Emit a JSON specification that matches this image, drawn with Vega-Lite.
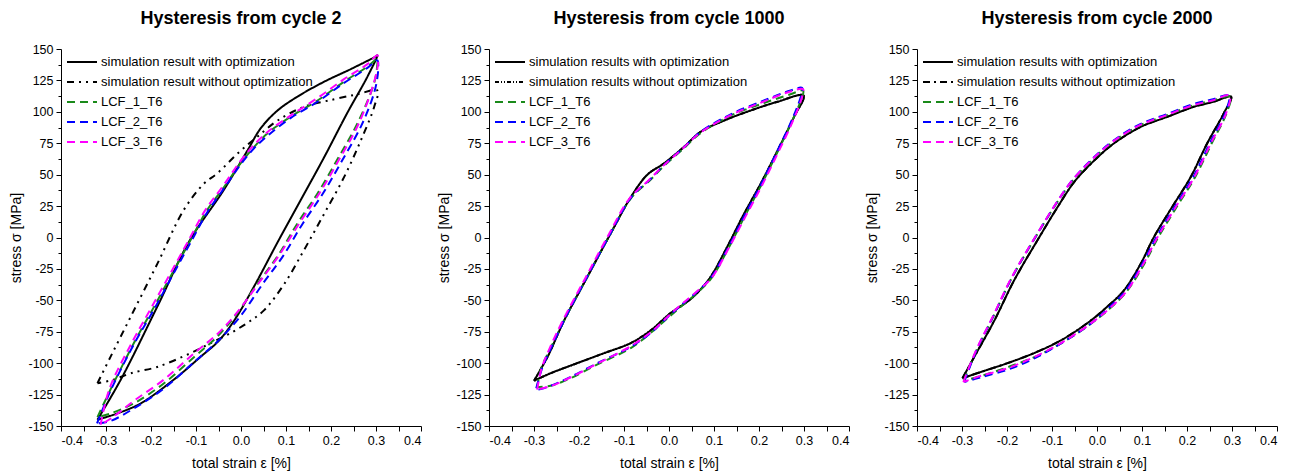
{
  "$schema": "https://vega.github.io/schema/vega-lite/v6.json",
  "padding": {"left": 9, "top": 10, "right": 0, "bottom": 0},
  "bounds": "flush",
  "spacing": 68,
  "config": {
    "font": "Liberation Sans",
    "view": {"stroke": null},
    "title": {"fontSize": 18, "fontWeight": "bold", "color": "#000", "anchor": "middle", "offset": 15},
    "axis": {"grid": false, "domainColor": "#000", "tickColor": "#000", "labelColor": "#000", "titleColor": "#000", "labelFontSize": 12.5, "titleFontSize": 14, "titleFontWeight": "normal", "labelPadding": 3, "domainWidth": 1, "tickWidth": 1},
    "legend": {"orient": "none", "legendX": 10, "legendY": 2, "title": null, "symbolType": "M-1.5,0H1.5", "symbolSize": 400, "symbolStrokeWidth": 2, "labelFontSize": 13, "labelColor": "#000", "padding": 0, "rowPadding": 2, "labelOffset": 8, "symbolOffset": 0, "labelLimit": 400}
  },
  "datasets": {
    "p1": [
      {"s":"opt","i":0,"x":-0.319,"y":-145},{"s":"opt","i":1,"x":-0.267,"y":-113},{"s":"opt","i":2,"x":-0.186,"y":-55},{"s":"opt","i":3,"x":-0.115,"y":-3},{"s":"opt","i":4,"x":-0.038,"y":38},{"s":"opt","i":5,"x":0.014,"y":69},{"s":"opt","i":6,"x":0.044,"y":87},{"s":"opt","i":7,"x":0.081,"y":101},{"s":"opt","i":8,"x":0.125,"y":112},{"s":"opt","i":9,"x":0.185,"y":124},{"s":"opt","i":10,"x":0.244,"y":134},{"s":"opt","i":11,"x":0.299,"y":144},{"s":"opt","i":12,"x":0.303,"y":145},{"s":"opt","i":13,"x":0.281,"y":128},{"s":"opt","i":14,"x":0.236,"y":99},{"s":"opt","i":15,"x":0.185,"y":64},{"s":"opt","i":16,"x":0.133,"y":30},{"s":"opt","i":17,"x":0.081,"y":-4},{"s":"opt","i":18,"x":0.029,"y":-39},{"s":"opt","i":19,"x":-0.015,"y":-66},{"s":"opt","i":20,"x":-0.049,"y":-82},{"s":"opt","i":21,"x":-0.09,"y":-95},{"s":"opt","i":22,"x":-0.149,"y":-113},{"s":"opt","i":23,"x":-0.223,"y":-132},{"s":"opt","i":24,"x":-0.275,"y":-140},{"s":"opt","i":25,"x":-0.319,"y":-145},
      {"s":"noopt","i":0,"x":-0.319,"y":-116},{"s":"noopt","i":1,"x":-0.29,"y":-95},{"s":"noopt","i":2,"x":-0.245,"y":-63},{"s":"noopt","i":3,"x":-0.186,"y":-21},{"s":"noopt","i":4,"x":-0.127,"y":22},{"s":"noopt","i":5,"x":-0.082,"y":43},{"s":"noopt","i":6,"x":-0.053,"y":51},{"s":"noopt","i":7,"x":-0.001,"y":69},{"s":"noopt","i":8,"x":0.036,"y":80},{"s":"noopt","i":9,"x":0.081,"y":93},{"s":"noopt","i":10,"x":0.14,"y":104},{"s":"noopt","i":11,"x":0.207,"y":110},{"s":"noopt","i":12,"x":0.259,"y":114},{"s":"noopt","i":13,"x":0.303,"y":117},{"s":"noopt","i":14,"x":0.296,"y":104},{"s":"noopt","i":15,"x":0.266,"y":77},{"s":"noopt","i":16,"x":0.229,"y":48},{"s":"noopt","i":17,"x":0.185,"y":19},{"s":"noopt","i":18,"x":0.14,"y":-10},{"s":"noopt","i":19,"x":0.096,"y":-37},{"s":"noopt","i":20,"x":0.051,"y":-58},{"s":"noopt","i":21,"x":0.014,"y":-68},{"s":"noopt","i":22,"x":-0.023,"y":-76},{"s":"noopt","i":23,"x":-0.067,"y":-84},{"s":"noopt","i":24,"x":-0.112,"y":-92},{"s":"noopt","i":25,"x":-0.186,"y":-103},{"s":"noopt","i":26,"x":-0.245,"y":-108},{"s":"noopt","i":27,"x":-0.282,"y":-113},{"s":"noopt","i":28,"x":-0.319,"y":-116},
      {"s":"LCF_1_T6","i":0,"x":-0.319,"y":-143},{"s":"LCF_1_T6","i":1,"x":-0.29,"y":-121},{"s":"LCF_1_T6","i":2,"x":-0.238,"y":-84},{"s":"LCF_1_T6","i":3,"x":-0.193,"y":-55},{"s":"LCF_1_T6","i":4,"x":-0.149,"y":-26},{"s":"LCF_1_T6","i":5,"x":-0.112,"y":-2},{"s":"LCF_1_T6","i":6,"x":-0.075,"y":22},{"s":"LCF_1_T6","i":7,"x":-0.038,"y":40},{"s":"LCF_1_T6","i":8,"x":-0.001,"y":59},{"s":"LCF_1_T6","i":9,"x":0.029,"y":72},{"s":"LCF_1_T6","i":10,"x":0.059,"y":83},{"s":"LCF_1_T6","i":11,"x":0.11,"y":96},{"s":"LCF_1_T6","i":12,"x":0.17,"y":109},{"s":"LCF_1_T6","i":13,"x":0.229,"y":124},{"s":"LCF_1_T6","i":14,"x":0.281,"y":136},{"s":"LCF_1_T6","i":15,"x":0.303,"y":142},{"s":"LCF_1_T6","i":16,"x":0.303,"y":138},{"s":"LCF_1_T6","i":17,"x":0.296,"y":123},{"s":"LCF_1_T6","i":18,"x":0.259,"y":91},{"s":"LCF_1_T6","i":19,"x":0.214,"y":62},{"s":"LCF_1_T6","i":20,"x":0.17,"y":35},{"s":"LCF_1_T6","i":21,"x":0.125,"y":11},{"s":"LCF_1_T6","i":22,"x":0.081,"y":-15},{"s":"LCF_1_T6","i":23,"x":0.036,"y":-37},{"s":"LCF_1_T6","i":24,"x":-0.008,"y":-60},{"s":"LCF_1_T6","i":25,"x":-0.053,"y":-79},{"s":"LCF_1_T6","i":26,"x":-0.104,"y":-95},{"s":"LCF_1_T6","i":27,"x":-0.171,"y":-116},{"s":"LCF_1_T6","i":28,"x":-0.238,"y":-132},{"s":"LCF_1_T6","i":29,"x":-0.29,"y":-140},{"s":"LCF_1_T6","i":30,"x":-0.319,"y":-143},
      {"s":"LCF_2_T6","i":0,"x":-0.32,"y":-148},{"s":"LCF_2_T6","i":1,"x":-0.29,"y":-122},{"s":"LCF_2_T6","i":2,"x":-0.238,"y":-85},{"s":"LCF_2_T6","i":3,"x":-0.193,"y":-57},{"s":"LCF_2_T6","i":4,"x":-0.149,"y":-28},{"s":"LCF_2_T6","i":5,"x":-0.112,"y":-4},{"s":"LCF_2_T6","i":6,"x":-0.075,"y":20},{"s":"LCF_2_T6","i":7,"x":-0.038,"y":39},{"s":"LCF_2_T6","i":8,"x":-0.001,"y":58},{"s":"LCF_2_T6","i":9,"x":0.029,"y":71},{"s":"LCF_2_T6","i":10,"x":0.059,"y":81},{"s":"LCF_2_T6","i":11,"x":0.11,"y":95},{"s":"LCF_2_T6","i":12,"x":0.17,"y":108},{"s":"LCF_2_T6","i":13,"x":0.229,"y":123},{"s":"LCF_2_T6","i":14,"x":0.281,"y":135},{"s":"LCF_2_T6","i":15,"x":0.303,"y":141},{"s":"LCF_2_T6","i":16,"x":0.305,"y":135},{"s":"LCF_2_T6","i":17,"x":0.298,"y":118},{"s":"LCF_2_T6","i":18,"x":0.27,"y":91},{"s":"LCF_2_T6","i":19,"x":0.226,"y":62},{"s":"LCF_2_T6","i":20,"x":0.182,"y":35},{"s":"LCF_2_T6","i":21,"x":0.137,"y":11},{"s":"LCF_2_T6","i":22,"x":0.093,"y":-15},{"s":"LCF_2_T6","i":23,"x":0.048,"y":-37},{"s":"LCF_2_T6","i":24,"x":0.0,"y":-62},{"s":"LCF_2_T6","i":25,"x":-0.05,"y":-82},{"s":"LCF_2_T6","i":26,"x":-0.104,"y":-99},{"s":"LCF_2_T6","i":27,"x":-0.171,"y":-120},{"s":"LCF_2_T6","i":28,"x":-0.238,"y":-136},{"s":"LCF_2_T6","i":29,"x":-0.29,"y":-146},{"s":"LCF_2_T6","i":30,"x":-0.32,"y":-148},
      {"s":"LCF_3_T6","i":0,"x":-0.312,"y":-149},{"s":"LCF_3_T6","i":1,"x":-0.292,"y":-120},{"s":"LCF_3_T6","i":2,"x":-0.243,"y":-84},{"s":"LCF_3_T6","i":3,"x":-0.198,"y":-55},{"s":"LCF_3_T6","i":4,"x":-0.153,"y":-26},{"s":"LCF_3_T6","i":5,"x":-0.116,"y":-2},{"s":"LCF_3_T6","i":6,"x":-0.079,"y":22},{"s":"LCF_3_T6","i":7,"x":-0.04,"y":41},{"s":"LCF_3_T6","i":8,"x":-0.003,"y":60},{"s":"LCF_3_T6","i":9,"x":0.027,"y":73},{"s":"LCF_3_T6","i":10,"x":0.059,"y":84},{"s":"LCF_3_T6","i":11,"x":0.11,"y":97},{"s":"LCF_3_T6","i":12,"x":0.17,"y":111},{"s":"LCF_3_T6","i":13,"x":0.229,"y":126},{"s":"LCF_3_T6","i":14,"x":0.281,"y":138},{"s":"LCF_3_T6","i":15,"x":0.303,"y":145},{"s":"LCF_3_T6","i":16,"x":0.305,"y":140},{"s":"LCF_3_T6","i":17,"x":0.296,"y":124},{"s":"LCF_3_T6","i":18,"x":0.262,"y":91},{"s":"LCF_3_T6","i":19,"x":0.218,"y":62},{"s":"LCF_3_T6","i":20,"x":0.174,"y":35},{"s":"LCF_3_T6","i":21,"x":0.129,"y":11},{"s":"LCF_3_T6","i":22,"x":0.085,"y":-14},{"s":"LCF_3_T6","i":23,"x":0.04,"y":-36},{"s":"LCF_3_T6","i":24,"x":-0.005,"y":-58},{"s":"LCF_3_T6","i":25,"x":-0.05,"y":-76},{"s":"LCF_3_T6","i":26,"x":-0.104,"y":-92},{"s":"LCF_3_T6","i":27,"x":-0.171,"y":-113},{"s":"LCF_3_T6","i":28,"x":-0.238,"y":-130},{"s":"LCF_3_T6","i":29,"x":-0.285,"y":-143},{"s":"LCF_3_T6","i":30,"x":-0.312,"y":-149}
    ],
    "p2": [
      {"s":"opt","i":0,"x":-0.30,"y":-114},{"s":"opt","i":1,"x":-0.27,"y":-95},{"s":"opt","i":2,"x":-0.233,"y":-66},{"s":"opt","i":3,"x":-0.181,"y":-31},{"s":"opt","i":4,"x":-0.13,"y":3},{"s":"opt","i":5,"x":-0.085,"y":32},{"s":"opt","i":6,"x":-0.048,"y":50},{"s":"opt","i":7,"x":-0.011,"y":59},{"s":"opt","i":8,"x":0.033,"y":72},{"s":"opt","i":9,"x":0.07,"y":84},{"s":"opt","i":10,"x":0.122,"y":93},{"s":"opt","i":11,"x":0.181,"y":101},{"s":"opt","i":12,"x":0.241,"y":108},{"s":"opt","i":13,"x":0.299,"y":113},{"s":"opt","i":14,"x":0.278,"y":96},{"s":"opt","i":15,"x":0.241,"y":69},{"s":"opt","i":16,"x":0.204,"y":43},{"s":"opt","i":17,"x":0.167,"y":19},{"s":"opt","i":18,"x":0.13,"y":-7},{"s":"opt","i":19,"x":0.093,"y":-31},{"s":"opt","i":20,"x":0.063,"y":-44},{"s":"opt","i":21,"x":0.041,"y":-51},{"s":"opt","i":22,"x":0.004,"y":-60},{"s":"opt","i":23,"x":-0.041,"y":-74},{"s":"opt","i":24,"x":-0.085,"y":-84},{"s":"opt","i":25,"x":-0.144,"y":-92},{"s":"opt","i":26,"x":-0.204,"y":-100},{"s":"opt","i":27,"x":-0.263,"y":-108},{"s":"opt","i":28,"x":-0.30,"y":-114},
      {"s":"noopt","i":0,"x":-0.30,"y":-114},{"s":"noopt","i":1,"x":-0.27,"y":-95},{"s":"noopt","i":2,"x":-0.233,"y":-66},{"s":"noopt","i":3,"x":-0.181,"y":-31},{"s":"noopt","i":4,"x":-0.13,"y":3},{"s":"noopt","i":5,"x":-0.085,"y":32},{"s":"noopt","i":6,"x":-0.048,"y":50},{"s":"noopt","i":7,"x":-0.011,"y":59},{"s":"noopt","i":8,"x":0.033,"y":72},{"s":"noopt","i":9,"x":0.07,"y":84},{"s":"noopt","i":10,"x":0.122,"y":93},{"s":"noopt","i":11,"x":0.181,"y":101},{"s":"noopt","i":12,"x":0.241,"y":108},{"s":"noopt","i":13,"x":0.299,"y":113},{"s":"noopt","i":14,"x":0.278,"y":96},{"s":"noopt","i":15,"x":0.241,"y":69},{"s":"noopt","i":16,"x":0.204,"y":43},{"s":"noopt","i":17,"x":0.167,"y":19},{"s":"noopt","i":18,"x":0.13,"y":-7},{"s":"noopt","i":19,"x":0.093,"y":-31},{"s":"noopt","i":20,"x":0.063,"y":-44},{"s":"noopt","i":21,"x":0.041,"y":-51},{"s":"noopt","i":22,"x":0.004,"y":-60},{"s":"noopt","i":23,"x":-0.041,"y":-74},{"s":"noopt","i":24,"x":-0.085,"y":-84},{"s":"noopt","i":25,"x":-0.144,"y":-92},{"s":"noopt","i":26,"x":-0.204,"y":-100},{"s":"noopt","i":27,"x":-0.263,"y":-108},{"s":"noopt","i":28,"x":-0.30,"y":-114},
      {"s":"LCF_1_T6","i":0,"x":-0.293,"y":-119},{"s":"LCF_1_T6","i":1,"x":-0.283,"y":-103},{"s":"LCF_1_T6","i":2,"x":-0.263,"y":-88},{"s":"LCF_1_T6","i":3,"x":-0.233,"y":-66},{"s":"LCF_1_T6","i":4,"x":-0.181,"y":-31},{"s":"LCF_1_T6","i":5,"x":-0.13,"y":3},{"s":"LCF_1_T6","i":6,"x":-0.085,"y":31},{"s":"LCF_1_T6","i":7,"x":-0.041,"y":46},{"s":"LCF_1_T6","i":8,"x":-0.011,"y":57},{"s":"LCF_1_T6","i":9,"x":0.033,"y":71},{"s":"LCF_1_T6","i":10,"x":0.07,"y":83},{"s":"LCF_1_T6","i":11,"x":0.137,"y":97},{"s":"LCF_1_T6","i":12,"x":0.211,"y":107},{"s":"LCF_1_T6","i":13,"x":0.27,"y":114},{"s":"LCF_1_T6","i":14,"x":0.298,"y":117},{"s":"LCF_1_T6","i":15,"x":0.294,"y":110},{"s":"LCF_1_T6","i":16,"x":0.27,"y":90},{"s":"LCF_1_T6","i":17,"x":0.241,"y":68},{"s":"LCF_1_T6","i":18,"x":0.204,"y":41},{"s":"LCF_1_T6","i":19,"x":0.167,"y":16},{"s":"LCF_1_T6","i":20,"x":0.13,"y":-10},{"s":"LCF_1_T6","i":21,"x":0.093,"y":-33},{"s":"LCF_1_T6","i":22,"x":0.063,"y":-44},{"s":"LCF_1_T6","i":23,"x":0.03,"y":-54},{"s":"LCF_1_T6","i":24,"x":0.004,"y":-62},{"s":"LCF_1_T6","i":25,"x":-0.041,"y":-76},{"s":"LCF_1_T6","i":26,"x":-0.085,"y":-88},{"s":"LCF_1_T6","i":27,"x":-0.159,"y":-101},{"s":"LCF_1_T6","i":28,"x":-0.219,"y":-112},{"s":"LCF_1_T6","i":29,"x":-0.263,"y":-118},{"s":"LCF_1_T6","i":30,"x":-0.293,"y":-119},
      {"s":"LCF_2_T6","i":0,"x":-0.295,"y":-120},{"s":"LCF_2_T6","i":1,"x":-0.28,"y":-102},{"s":"LCF_2_T6","i":2,"x":-0.262,"y":-88},{"s":"LCF_2_T6","i":3,"x":-0.232,"y":-65},{"s":"LCF_2_T6","i":4,"x":-0.18,"y":-30},{"s":"LCF_2_T6","i":5,"x":-0.129,"y":4},{"s":"LCF_2_T6","i":6,"x":-0.084,"y":32},{"s":"LCF_2_T6","i":7,"x":-0.04,"y":47},{"s":"LCF_2_T6","i":8,"x":-0.01,"y":58},{"s":"LCF_2_T6","i":9,"x":0.034,"y":72},{"s":"LCF_2_T6","i":10,"x":0.07,"y":84},{"s":"LCF_2_T6","i":11,"x":0.137,"y":98},{"s":"LCF_2_T6","i":12,"x":0.211,"y":109},{"s":"LCF_2_T6","i":13,"x":0.27,"y":117},{"s":"LCF_2_T6","i":14,"x":0.296,"y":119},{"s":"LCF_2_T6","i":15,"x":0.292,"y":111},{"s":"LCF_2_T6","i":16,"x":0.27,"y":91},{"s":"LCF_2_T6","i":17,"x":0.241,"y":69},{"s":"LCF_2_T6","i":18,"x":0.204,"y":42},{"s":"LCF_2_T6","i":19,"x":0.167,"y":17},{"s":"LCF_2_T6","i":20,"x":0.13,"y":-9},{"s":"LCF_2_T6","i":21,"x":0.093,"y":-32},{"s":"LCF_2_T6","i":22,"x":0.063,"y":-43},{"s":"LCF_2_T6","i":23,"x":0.03,"y":-53},{"s":"LCF_2_T6","i":24,"x":0.004,"y":-61},{"s":"LCF_2_T6","i":25,"x":-0.041,"y":-76},{"s":"LCF_2_T6","i":26,"x":-0.085,"y":-87},{"s":"LCF_2_T6","i":27,"x":-0.159,"y":-100},{"s":"LCF_2_T6","i":28,"x":-0.219,"y":-111},{"s":"LCF_2_T6","i":29,"x":-0.263,"y":-118},{"s":"LCF_2_T6","i":30,"x":-0.293,"y":-121},{"s":"LCF_2_T6","i":31,"x":-0.295,"y":-120},
      {"s":"LCF_3_T6","i":0,"x":-0.293,"y":-121},{"s":"LCF_3_T6","i":1,"x":-0.283,"y":-104},{"s":"LCF_3_T6","i":2,"x":-0.265,"y":-88},{"s":"LCF_3_T6","i":3,"x":-0.236,"y":-66},{"s":"LCF_3_T6","i":4,"x":-0.184,"y":-31},{"s":"LCF_3_T6","i":5,"x":-0.133,"y":3},{"s":"LCF_3_T6","i":6,"x":-0.088,"y":31},{"s":"LCF_3_T6","i":7,"x":-0.044,"y":46},{"s":"LCF_3_T6","i":8,"x":-0.013,"y":57},{"s":"LCF_3_T6","i":9,"x":0.031,"y":71},{"s":"LCF_3_T6","i":10,"x":0.068,"y":83},{"s":"LCF_3_T6","i":11,"x":0.135,"y":97},{"s":"LCF_3_T6","i":12,"x":0.209,"y":108},{"s":"LCF_3_T6","i":13,"x":0.268,"y":116},{"s":"LCF_3_T6","i":14,"x":0.298,"y":118},{"s":"LCF_3_T6","i":15,"x":0.294,"y":110},{"s":"LCF_3_T6","i":16,"x":0.272,"y":90},{"s":"LCF_3_T6","i":17,"x":0.243,"y":68},{"s":"LCF_3_T6","i":18,"x":0.206,"y":41},{"s":"LCF_3_T6","i":19,"x":0.169,"y":16},{"s":"LCF_3_T6","i":20,"x":0.132,"y":-9},{"s":"LCF_3_T6","i":21,"x":0.095,"y":-32},{"s":"LCF_3_T6","i":22,"x":0.065,"y":-42},{"s":"LCF_3_T6","i":23,"x":0.032,"y":-52},{"s":"LCF_3_T6","i":24,"x":0.006,"y":-60},{"s":"LCF_3_T6","i":25,"x":-0.039,"y":-75},{"s":"LCF_3_T6","i":26,"x":-0.083,"y":-86},{"s":"LCF_3_T6","i":27,"x":-0.157,"y":-100},{"s":"LCF_3_T6","i":28,"x":-0.217,"y":-111},{"s":"LCF_3_T6","i":29,"x":-0.261,"y":-118},{"s":"LCF_3_T6","i":30,"x":-0.293,"y":-121}
    ],
    "p3": [
      {"s":"opt","i":0,"x":-0.299,"y":-112},{"s":"opt","i":1,"x":-0.265,"y":-90},{"s":"opt","i":2,"x":-0.228,"y":-66},{"s":"opt","i":3,"x":-0.184,"y":-34},{"s":"opt","i":4,"x":-0.132,"y":-2},{"s":"opt","i":5,"x":-0.088,"y":24},{"s":"opt","i":6,"x":-0.051,"y":44},{"s":"opt","i":7,"x":-0.007,"y":61},{"s":"opt","i":8,"x":0.038,"y":75},{"s":"opt","i":9,"x":0.097,"y":88},{"s":"opt","i":10,"x":0.156,"y":96},{"s":"opt","i":11,"x":0.215,"y":104},{"s":"opt","i":12,"x":0.259,"y":108},{"s":"opt","i":13,"x":0.298,"y":112},{"s":"opt","i":14,"x":0.282,"y":99},{"s":"opt","i":15,"x":0.245,"y":75},{"s":"opt","i":16,"x":0.208,"y":48},{"s":"opt","i":17,"x":0.163,"y":22},{"s":"opt","i":18,"x":0.126,"y":0},{"s":"opt","i":19,"x":0.097,"y":-21},{"s":"opt","i":20,"x":0.06,"y":-42},{"s":"opt","i":21,"x":0.023,"y":-55},{"s":"opt","i":22,"x":-0.021,"y":-68},{"s":"opt","i":23,"x":-0.081,"y":-82},{"s":"opt","i":24,"x":-0.14,"y":-92},{"s":"opt","i":25,"x":-0.199,"y":-100},{"s":"opt","i":26,"x":-0.258,"y":-107},{"s":"opt","i":27,"x":-0.299,"y":-112},
      {"s":"noopt","i":0,"x":-0.299,"y":-112},{"s":"noopt","i":1,"x":-0.265,"y":-90},{"s":"noopt","i":2,"x":-0.228,"y":-66},{"s":"noopt","i":3,"x":-0.184,"y":-34},{"s":"noopt","i":4,"x":-0.132,"y":-2},{"s":"noopt","i":5,"x":-0.088,"y":24},{"s":"noopt","i":6,"x":-0.051,"y":44},{"s":"noopt","i":7,"x":-0.007,"y":61},{"s":"noopt","i":8,"x":0.038,"y":75},{"s":"noopt","i":9,"x":0.097,"y":88},{"s":"noopt","i":10,"x":0.156,"y":96},{"s":"noopt","i":11,"x":0.215,"y":104},{"s":"noopt","i":12,"x":0.259,"y":108},{"s":"noopt","i":13,"x":0.298,"y":112},{"s":"noopt","i":14,"x":0.282,"y":99},{"s":"noopt","i":15,"x":0.245,"y":75},{"s":"noopt","i":16,"x":0.208,"y":48},{"s":"noopt","i":17,"x":0.163,"y":22},{"s":"noopt","i":18,"x":0.126,"y":0},{"s":"noopt","i":19,"x":0.097,"y":-21},{"s":"noopt","i":20,"x":0.06,"y":-42},{"s":"noopt","i":21,"x":0.023,"y":-55},{"s":"noopt","i":22,"x":-0.021,"y":-68},{"s":"noopt","i":23,"x":-0.081,"y":-82},{"s":"noopt","i":24,"x":-0.14,"y":-92},{"s":"noopt","i":25,"x":-0.199,"y":-100},{"s":"noopt","i":26,"x":-0.258,"y":-107},{"s":"noopt","i":27,"x":-0.299,"y":-112},
      {"s":"LCF_1_T6","i":0,"x":-0.296,"y":-114},{"s":"LCF_1_T6","i":1,"x":-0.268,"y":-90},{"s":"LCF_1_T6","i":2,"x":-0.232,"y":-64},{"s":"LCF_1_T6","i":3,"x":-0.189,"y":-32},{"s":"LCF_1_T6","i":4,"x":-0.137,"y":0},{"s":"LCF_1_T6","i":5,"x":-0.092,"y":26},{"s":"LCF_1_T6","i":6,"x":-0.055,"y":45},{"s":"LCF_1_T6","i":7,"x":-0.01,"y":62},{"s":"LCF_1_T6","i":8,"x":0.035,"y":76},{"s":"LCF_1_T6","i":9,"x":0.094,"y":89},{"s":"LCF_1_T6","i":10,"x":0.153,"y":97},{"s":"LCF_1_T6","i":11,"x":0.212,"y":105},{"s":"LCF_1_T6","i":12,"x":0.257,"y":109},{"s":"LCF_1_T6","i":13,"x":0.296,"y":112},{"s":"LCF_1_T6","i":14,"x":0.288,"y":99},{"s":"LCF_1_T6","i":15,"x":0.255,"y":75},{"s":"LCF_1_T6","i":16,"x":0.218,"y":48},{"s":"LCF_1_T6","i":17,"x":0.173,"y":22},{"s":"LCF_1_T6","i":18,"x":0.136,"y":0},{"s":"LCF_1_T6","i":19,"x":0.105,"y":-21},{"s":"LCF_1_T6","i":20,"x":0.066,"y":-43},{"s":"LCF_1_T6","i":21,"x":0.027,"y":-57},{"s":"LCF_1_T6","i":22,"x":-0.019,"y":-70},{"s":"LCF_1_T6","i":23,"x":-0.079,"y":-84},{"s":"LCF_1_T6","i":24,"x":-0.138,"y":-95},{"s":"LCF_1_T6","i":25,"x":-0.197,"y":-103},{"s":"LCF_1_T6","i":26,"x":-0.256,"y":-110},{"s":"LCF_1_T6","i":27,"x":-0.296,"y":-114},
      {"s":"LCF_2_T6","i":0,"x":-0.295,"y":-115},{"s":"LCF_2_T6","i":1,"x":-0.267,"y":-89},{"s":"LCF_2_T6","i":2,"x":-0.231,"y":-63},{"s":"LCF_2_T6","i":3,"x":-0.188,"y":-31},{"s":"LCF_2_T6","i":4,"x":-0.136,"y":1},{"s":"LCF_2_T6","i":5,"x":-0.091,"y":27},{"s":"LCF_2_T6","i":6,"x":-0.054,"y":46},{"s":"LCF_2_T6","i":7,"x":-0.009,"y":63},{"s":"LCF_2_T6","i":8,"x":0.036,"y":77},{"s":"LCF_2_T6","i":9,"x":0.095,"y":90},{"s":"LCF_2_T6","i":10,"x":0.154,"y":98},{"s":"LCF_2_T6","i":11,"x":0.213,"y":106},{"s":"LCF_2_T6","i":12,"x":0.258,"y":110},{"s":"LCF_2_T6","i":13,"x":0.293,"y":113},{"s":"LCF_2_T6","i":14,"x":0.286,"y":100},{"s":"LCF_2_T6","i":15,"x":0.252,"y":76},{"s":"LCF_2_T6","i":16,"x":0.215,"y":49},{"s":"LCF_2_T6","i":17,"x":0.17,"y":23},{"s":"LCF_2_T6","i":18,"x":0.133,"y":1},{"s":"LCF_2_T6","i":19,"x":0.102,"y":-20},{"s":"LCF_2_T6","i":20,"x":0.064,"y":-42},{"s":"LCF_2_T6","i":21,"x":0.026,"y":-56},{"s":"LCF_2_T6","i":22,"x":-0.019,"y":-70},{"s":"LCF_2_T6","i":23,"x":-0.079,"y":-84},{"s":"LCF_2_T6","i":24,"x":-0.138,"y":-96},{"s":"LCF_2_T6","i":25,"x":-0.197,"y":-105},{"s":"LCF_2_T6","i":26,"x":-0.256,"y":-111},{"s":"LCF_2_T6","i":27,"x":-0.295,"y":-115},
      {"s":"LCF_3_T6","i":0,"x":-0.297,"y":-115},{"s":"LCF_3_T6","i":1,"x":-0.269,"y":-90},{"s":"LCF_3_T6","i":2,"x":-0.233,"y":-64},{"s":"LCF_3_T6","i":3,"x":-0.19,"y":-32},{"s":"LCF_3_T6","i":4,"x":-0.138,"y":0},{"s":"LCF_3_T6","i":5,"x":-0.093,"y":26},{"s":"LCF_3_T6","i":6,"x":-0.056,"y":45},{"s":"LCF_3_T6","i":7,"x":-0.011,"y":62},{"s":"LCF_3_T6","i":8,"x":0.034,"y":76},{"s":"LCF_3_T6","i":9,"x":0.093,"y":89},{"s":"LCF_3_T6","i":10,"x":0.152,"y":97},{"s":"LCF_3_T6","i":11,"x":0.211,"y":105},{"s":"LCF_3_T6","i":12,"x":0.256,"y":109},{"s":"LCF_3_T6","i":13,"x":0.295,"y":113},{"s":"LCF_3_T6","i":14,"x":0.287,"y":99},{"s":"LCF_3_T6","i":15,"x":0.253,"y":75},{"s":"LCF_3_T6","i":16,"x":0.216,"y":48},{"s":"LCF_3_T6","i":17,"x":0.171,"y":22},{"s":"LCF_3_T6","i":18,"x":0.134,"y":0},{"s":"LCF_3_T6","i":19,"x":0.103,"y":-21},{"s":"LCF_3_T6","i":20,"x":0.065,"y":-43},{"s":"LCF_3_T6","i":21,"x":0.026,"y":-57},{"s":"LCF_3_T6","i":22,"x":-0.02,"y":-70},{"s":"LCF_3_T6","i":23,"x":-0.08,"y":-84},{"s":"LCF_3_T6","i":24,"x":-0.139,"y":-95},{"s":"LCF_3_T6","i":25,"x":-0.198,"y":-104},{"s":"LCF_3_T6","i":26,"x":-0.257,"y":-110},{"s":"LCF_3_T6","i":27,"x":-0.297,"y":-115}
    ]
  },
  "resolve": {"scale": {"color": "independent", "strokeDash": "independent"}, "legend": {"color": "independent", "strokeDash": "independent"}},
  "hconcat": [
    {
      "title": "Hysteresis from cycle 2",
      "width": 360, "height": 377,
      "data": {"name": "p1"},
      "mark": {"type": "line", "strokeWidth": 2, "interpolate": "catmull-rom"},
      "encoding": {
        "x": {"field": "x", "type": "quantitative", "scale": {"domain": [-0.4, 0.4], "nice": false, "zero": false},
          "axis": {"title": "total strain ε [%]", "values": [-0.4,-0.35,-0.3,-0.25,-0.2,-0.15,-0.1,-0.05,0,0.05,0.1,0.15,0.2,0.25,0.3,0.35,0.4], "labelExpr": "abs(round(datum.value*20)) % 2 == 0 ? replace(format(datum.value, '.1f'), '−', '-') : ''", "tickSize": 5, "titlePadding": 10}},
        "y": {"field": "y", "type": "quantitative", "scale": {"domain": [-150, 150], "nice": false, "zero": false},
          "axis": {"title": "stress σ [MPa]", "values": [-150,-137.5,-125,-112.5,-100,-87.5,-75,-62.5,-50,-37.5,-25,-12.5,0,12.5,25,37.5,50,62.5,75,87.5,100,112.5,125,137.5,150], "labelExpr": "datum.value % 25 == 0 ? replace(format(datum.value, 'd'), '−', '-') : ''", "tickSize": {"condition": {"test": "datum.value % 25 != 0", "value": 3}, "value": 5}, "titlePadding": 4}},
        "order": {"field": "i", "type": "quantitative"},
        "color": {"field": "s", "type": "nominal", "scale": {"domain": ["opt", "noopt", "LCF_1_T6", "LCF_2_T6", "LCF_3_T6"], "range": ["#000000", "#000000", "#1a8a1a", "#0000ff", "#ff00ff"]},
          "legend": {"labelExpr": "datum.label == 'opt' ? 'simulation result with optimization' : datum.label == 'noopt' ? 'simulation result without optimization' : datum.label"}},
        "strokeDash": {"field": "s", "type": "nominal", "scale": {"domain": ["opt", "noopt", "LCF_1_T6", "LCF_2_T6", "LCF_3_T6"], "range": [[1, 0], [7, 5, 2, 5, 2, 5], [8, 5], [8, 5], [8, 5]]},
          "legend": {"labelExpr": "datum.label == 'opt' ? 'simulation result with optimization' : datum.label == 'noopt' ? 'simulation result without optimization' : datum.label"}}
      }
    },
    {
      "title": "Hysteresis from cycle 1000",
      "width": 360, "height": 377,
      "data": {"name": "p2"},
      "mark": {"type": "line", "strokeWidth": 2, "interpolate": "catmull-rom"},
      "encoding": {
        "x": {"field": "x", "type": "quantitative", "scale": {"domain": [-0.4, 0.4], "nice": false, "zero": false},
          "axis": {"title": "total strain ε [%]", "values": [-0.4,-0.35,-0.3,-0.25,-0.2,-0.15,-0.1,-0.05,0,0.05,0.1,0.15,0.2,0.25,0.3,0.35,0.4], "labelExpr": "abs(round(datum.value*20)) % 2 == 0 ? replace(format(datum.value, '.1f'), '−', '-') : ''", "tickSize": 5, "titlePadding": 10}},
        "y": {"field": "y", "type": "quantitative", "scale": {"domain": [-150, 150], "nice": false, "zero": false},
          "axis": {"title": "stress σ [MPa]", "values": [-150,-137.5,-125,-112.5,-100,-87.5,-75,-62.5,-50,-37.5,-25,-12.5,0,12.5,25,37.5,50,62.5,75,87.5,100,112.5,125,137.5,150], "labelExpr": "datum.value % 25 == 0 ? replace(format(datum.value, 'd'), '−', '-') : ''", "tickSize": {"condition": {"test": "datum.value % 25 != 0", "value": 3}, "value": 5}, "titlePadding": 4}},
        "order": {"field": "i", "type": "quantitative"},
        "color": {"field": "s", "type": "nominal", "scale": {"domain": ["opt", "noopt", "LCF_1_T6", "LCF_2_T6", "LCF_3_T6"], "range": ["#000000", "#000000", "#1a8a1a", "#0000ff", "#ff00ff"]},
          "legend": {"labelExpr": "datum.label == 'opt' ? 'simulation results with optimization' : datum.label == 'noopt' ? 'simulation results without optimization' : datum.label"}},
        "strokeDash": {"field": "s", "type": "nominal", "scale": {"domain": ["opt", "noopt", "LCF_1_T6", "LCF_2_T6", "LCF_3_T6"], "range": [[1, 0], [4, 2, 1, 2, 1, 2], [8, 5], [8, 5], [8, 5]]},
          "legend": {"labelExpr": "datum.label == 'opt' ? 'simulation results with optimization' : datum.label == 'noopt' ? 'simulation results without optimization' : datum.label"}}
      }
    },
    {
      "title": "Hysteresis from cycle 2000",
      "width": 360, "height": 377,
      "data": {"name": "p3"},
      "mark": {"type": "line", "strokeWidth": 2, "interpolate": "catmull-rom"},
      "encoding": {
        "x": {"field": "x", "type": "quantitative", "scale": {"domain": [-0.4, 0.4], "nice": false, "zero": false},
          "axis": {"title": "total strain ε [%]", "values": [-0.4,-0.35,-0.3,-0.25,-0.2,-0.15,-0.1,-0.05,0,0.05,0.1,0.15,0.2,0.25,0.3,0.35,0.4], "labelExpr": "abs(round(datum.value*20)) % 2 == 0 ? replace(format(datum.value, '.1f'), '−', '-') : ''", "tickSize": 5, "titlePadding": 10}},
        "y": {"field": "y", "type": "quantitative", "scale": {"domain": [-150, 150], "nice": false, "zero": false},
          "axis": {"title": "stress σ [MPa]", "values": [-150,-137.5,-125,-112.5,-100,-87.5,-75,-62.5,-50,-37.5,-25,-12.5,0,12.5,25,37.5,50,62.5,75,87.5,100,112.5,125,137.5,150], "labelExpr": "datum.value % 25 == 0 ? replace(format(datum.value, 'd'), '−', '-') : ''", "tickSize": {"condition": {"test": "datum.value % 25 != 0", "value": 3}, "value": 5}, "titlePadding": 4}},
        "order": {"field": "i", "type": "quantitative"},
        "color": {"field": "s", "type": "nominal", "scale": {"domain": ["opt", "noopt", "LCF_1_T6", "LCF_2_T6", "LCF_3_T6"], "range": ["#000000", "#000000", "#1a8a1a", "#0000ff", "#ff00ff"]},
          "legend": {"labelExpr": "datum.label == 'opt' ? 'simulation results with optimization' : datum.label == 'noopt' ? 'simulation results without optimization' : datum.label"}},
        "strokeDash": {"field": "s", "type": "nominal", "scale": {"domain": ["opt", "noopt", "LCF_1_T6", "LCF_2_T6", "LCF_3_T6"], "range": [[1, 0], [7, 4, 2, 4], [8, 5], [8, 5], [8, 5]]},
          "legend": {"labelExpr": "datum.label == 'opt' ? 'simulation results with optimization' : datum.label == 'noopt' ? 'simulation results without optimization' : datum.label"}}
      }
    }
  ]
}
